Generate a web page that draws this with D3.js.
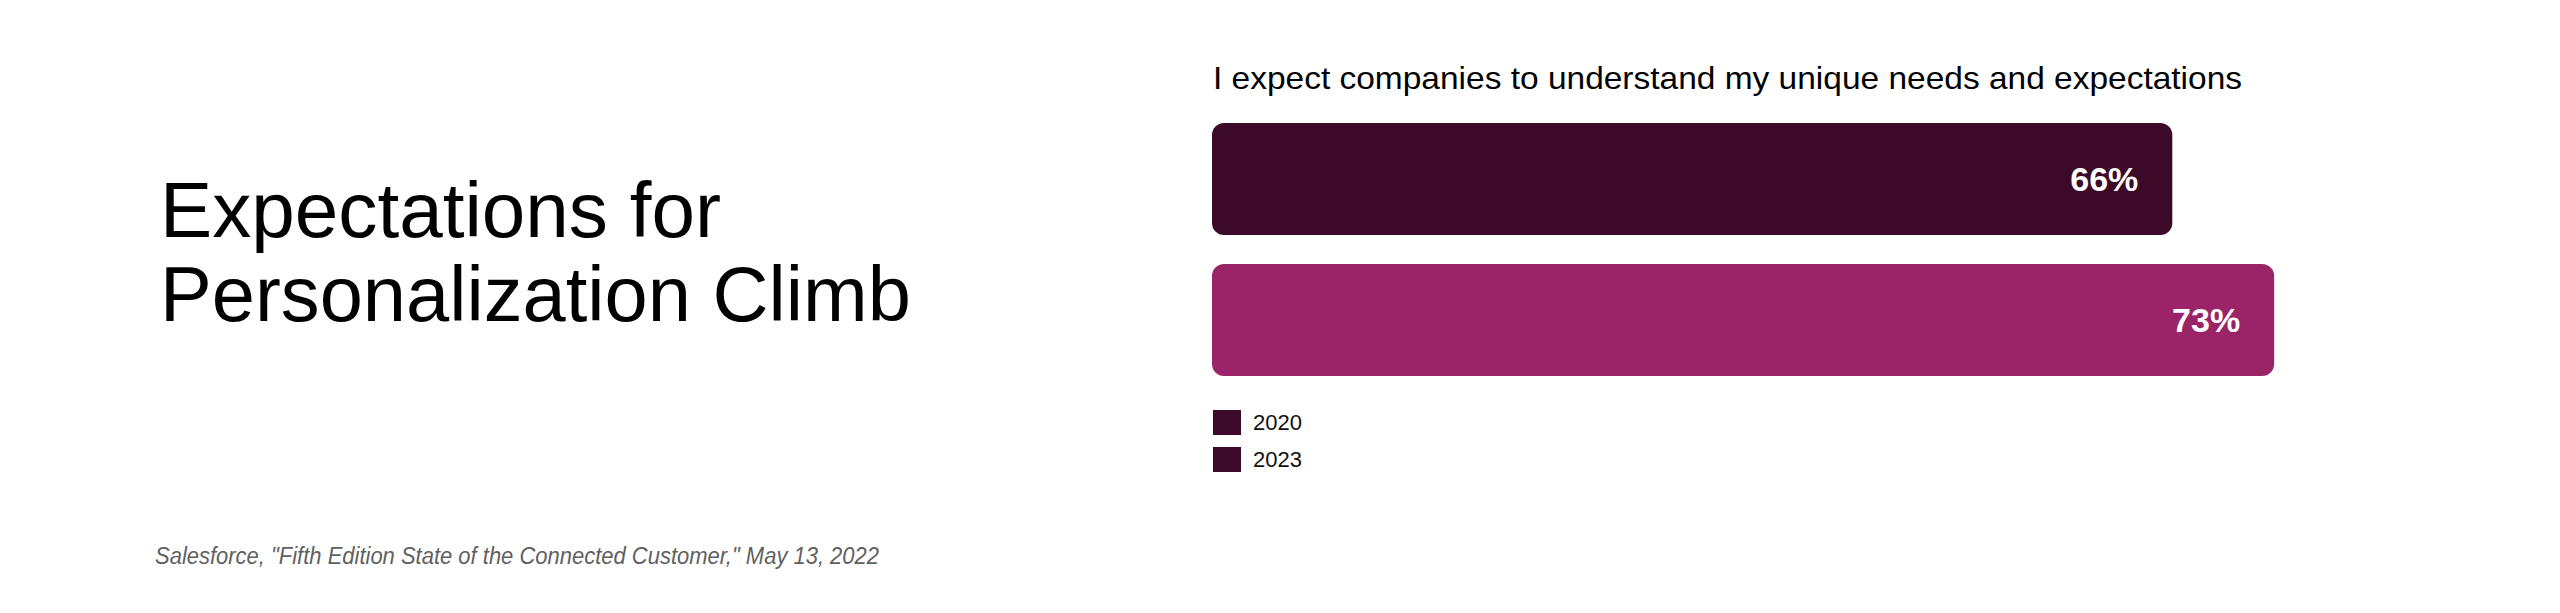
<!DOCTYPE html>
<html>
<head>
<meta charset="utf-8">
<script src="https://cdn.jsdelivr.net/npm/d3@7"></script>
<style>
  body { margin: 0; background: #fff; }
  svg { display: block; font-family: 'Liberation Sans', Arial, sans-serif; }
</style>
</head>
<body>
<svg id="chart" width="2560" height="613"></svg>
<script>
// chart data
const titleLines = ['Expectations for', 'Personalization Climb'];
const question = 'I expect companies to understand my unique needs and expectations';
const years = ['2020', '2023'];
const values = [66, 73];
const source = 'Salesforce, "Fifth Edition State of the Connected Customer," May 13, 2022';

const barColors = ['#3c0a28', '#9b2367'];
const legendColor = '#3c0a28'; // the original legend shows the dark swatch for both years

const svg = d3.select('#chart');

// title on the left
const titleWidths = [561, 751];
svg.append('g').selectAll('text')
  .data(titleLines)
  .enter().append('text')
  .attr('x', 160)
  .attr('y', (d, i) => 237 + i * 84)
  .attr('font-size', 78)
  .attr('fill', '#000')
  .attr('textLength', (d, i) => titleWidths[i])
  .attr('lengthAdjust', 'spacingAndGlyphs')
  .text((d) => d);

svg.append('text')
  .attr('x', 155)
  .attr('y', 564)
  .attr('font-size', 23)
  .attr('font-style', 'italic')
  .attr('fill', '#5f5f5f')
  .attr('textLength', 724)
  .attr('lengthAdjust', 'spacingAndGlyphs')
  .text(source);

// bar chart on the right
const left = 1212;
const x = d3.scaleLinear().domain([0, 100]).range([0, 1455]);
const y = d3.scaleBand().domain(years).range([123, 376]).paddingInner(0.206);

svg.append('text')
  .attr('x', 1213)
  .attr('y', 89)
  .attr('font-size', 32)
  .attr('fill', '#000')
  .attr('textLength', 1029)
  .attr('lengthAdjust', 'spacingAndGlyphs')
  .text(question);

const bars = svg.append('g');

bars.selectAll('rect')
  .data(values)
  .enter().append('rect')
  .attr('x', left)
  .attr('y', (d, i) => y(years[i]))
  .attr('width', (d) => x(d))
  .attr('height', y.bandwidth())
  .attr('rx', 12)
  .attr('fill', (d, i) => barColors[i]);

bars.selectAll('text')
  .data(values)
  .enter().append('text')
  .attr('x', (d) => left + x(d) - 34)
  .attr('y', (d, i) => y(years[i]) + y.bandwidth() / 2)
  .attr('dy', '.35em')
  .attr('text-anchor', 'end')
  .attr('font-size', 34)
  .attr('font-weight', 'bold')
  .attr('fill', '#fff')
  .text((d) => d + '%');

// legend
const legend = svg.append('g')
  .attr('transform', `translate(${left + 1}, 410)`);

const item = legend.selectAll('g')
  .data(years)
  .enter().append('g')
  .attr('transform', (d, i) => `translate(0, ${i * 37})`);

item.append('rect')
  .attr('width', 28)
  .attr('height', 25)
  .attr('fill', legendColor);

item.append('text')
  .attr('x', 40)
  .attr('y', 20)
  .attr('font-size', 22)
  .attr('fill', '#111')
  .text((d) => d);
</script>
</body>
</html>
